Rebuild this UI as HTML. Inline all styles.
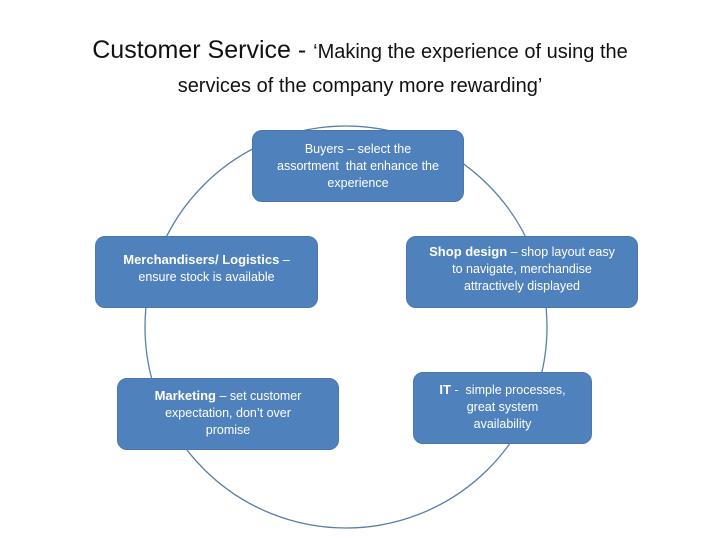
<!DOCTYPE html>
<html><head><meta charset="utf-8"><style>
body{margin:0;width:720px;height:540px;background:#fff;position:relative;overflow:hidden;font-family:"Liberation Sans",sans-serif}
.t{position:absolute;left:0;width:720px;text-align:center;color:#111}
.b{position:absolute;background:#4f81bd;border:1px solid #4a76ad;border-radius:10px;color:#fff;font-size:12.5px;line-height:17px;text-align:center;display:flex;flex-direction:column;justify-content:center;box-sizing:border-box;padding:0 6px}
</style></head><body>
<div class="t" style="top:36px;font-size:25px">Customer Service - <span style="font-size:20px">‘Making the experience of using the</span></div>
<div class="t" style="top:75px;font-size:20px">services of the company more rewarding’</div>
<svg width="720" height="540" style="position:absolute;left:0;top:0">
<circle cx="346" cy="327" r="201" fill="none" stroke="#5a7fa6" stroke-width="1.3"/>
</svg>
<div class="b" style="left:252px;top:130px;width:212px;height:72px;justify-content:flex-start;padding-top:10px">Buyers – select the<br>assortment&nbsp; that enhance the<br>experience</div>
<div class="b" style="left:95px;top:236px;width:223px;height:72px;padding-bottom:8px"><div><b style="font-size:13px">Merchandisers/ Logistics</b> –</div><div>ensure stock is available</div></div>
<div class="b" style="left:406px;top:236px;width:232px;height:72px;padding-bottom:6px"><div><b style="font-size:13px">Shop design</b> – shop layout easy</div><div>to navigate, merchandise</div><div>attractively displayed</div></div>
<div class="b" style="left:117px;top:378px;width:222px;height:72px;justify-content:flex-start;padding-top:8px"><div><b style="font-size:13px">Marketing</b> – set customer</div><div>expectation, don’t over</div><div>promise</div></div>
<div class="b" style="left:413px;top:372px;width:179px;height:72px;justify-content:flex-start;padding-top:8px"><div><b style="font-size:13px">IT</b> -&nbsp; simple processes,</div><div>great system</div><div>availability</div></div>
</body></html>
